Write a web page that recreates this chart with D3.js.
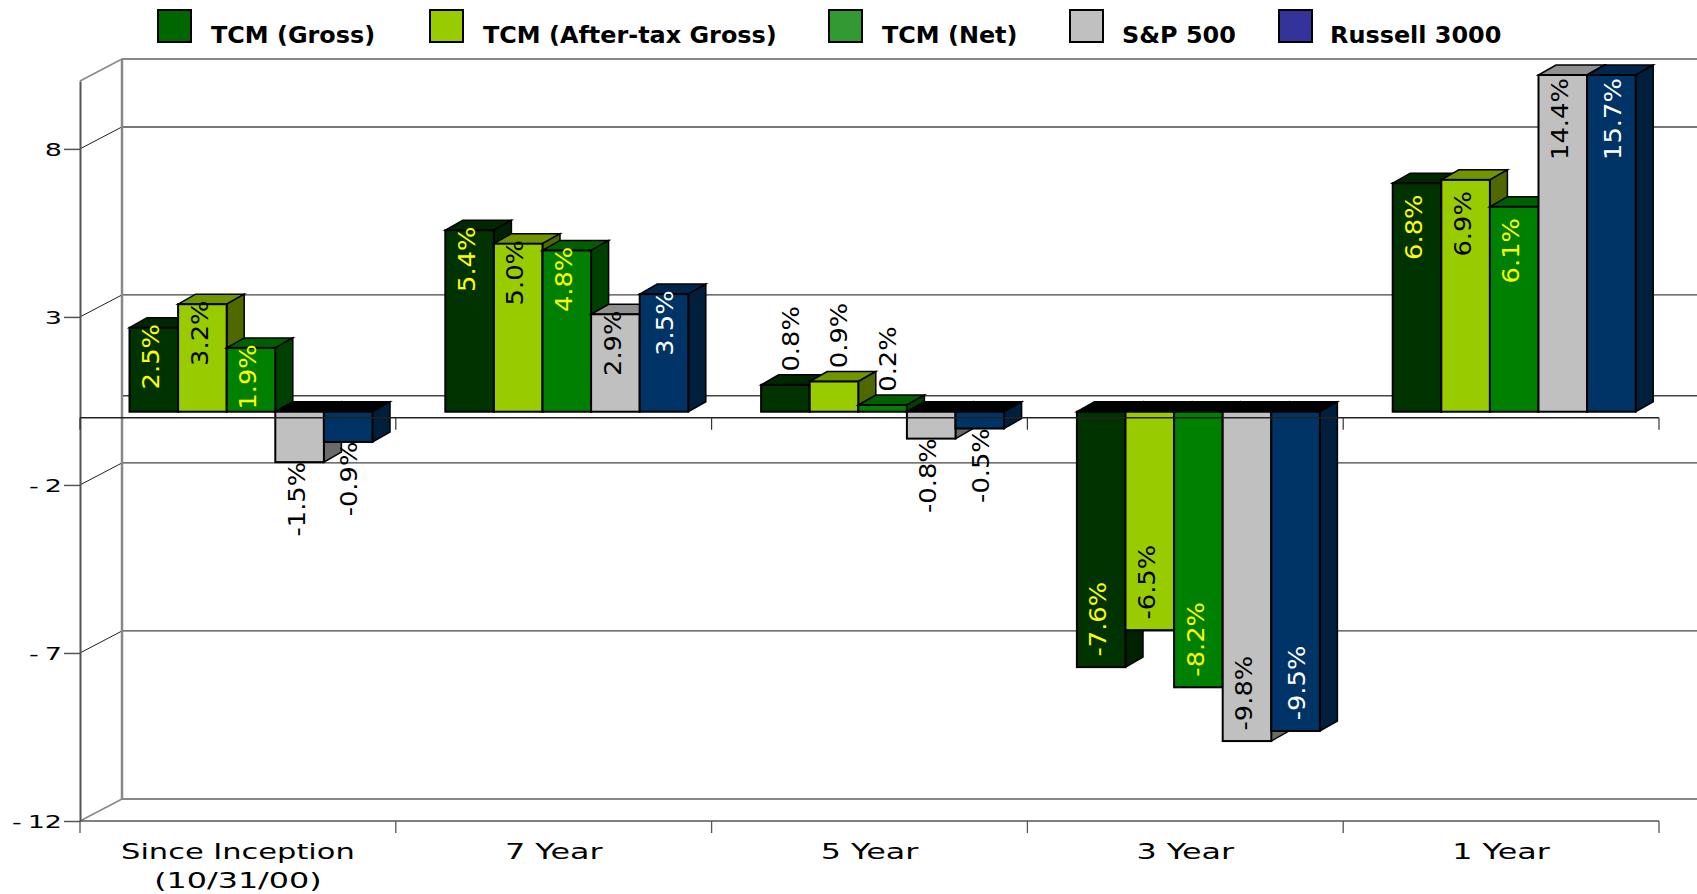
<!DOCTYPE html>
<html><head><meta charset="utf-8">
<script src="https://cdn.jsdelivr.net/npm/d3@7"></script>
<style>html,body{margin:0;background:#fff;overflow:hidden}svg{display:block}text{font-family:"DejaVu Sans",sans-serif;fill:#000}</style>
</head><body><div id="c"></div>
<script>
const categories = [["Since Inception","(10/31/00)"],["7 Year"],["5 Year"],["3 Year"],["1 Year"]];
const seriesNames = ["TCM (Gross)","TCM (After-tax Gross)","TCM (Net)","S&P 500","Russell 3000"];
const tcmGross = [2.5,5.4,0.8,-7.6,6.8];
const tcmAfterTax = [3.2,5.0,0.9,-6.5,6.9];
const tcmNet = [1.9,4.8,0.2,-8.2,6.1];
const sp500 = [-1.5,2.9,-0.8,-9.8,14.4];
const russell3000 = [-0.9,3.5,-0.5,-9.5,15.7];
const yTicks = [8,3,-2,-7,-12];
const allSeries = [tcmGross,tcmAfterTax,tcmNet,sp500,russell3000];

const legendColors = ["#006600","#99CC00","#339933","#C0C0C0","#333399"];
const frontColors = ["#003300","#99CC00","#008000","#C0C0C0","#003366"];
const topColors = ["#002800","#6F9500","#006000","#909090","#00264D"];
const sideColors = ["#002200","#4F6800","#004000","#6A6A6A","#001F3D"];
const labelColors = ["#FFFF00","#000","#FFFF00","#000","#FFF"];
const labelShift = [-3,-3,-3,-3,1];

const W=1697,H=894;
const svg=d3.select("#c").append("svg").attr("width",W).attr("height",H);
svg.append("rect").attr("width",W).attr("height",H).attr("fill","#fff");

const y=d3.scaleLinear().domain([-12,10.02]).range([821,81]).clamp(true);
const x=d3.scaleBand().domain(d3.range(categories.length)).range([80,1659]);
const inner=d3.scaleBand().domain(d3.range(allSeries.length)).range([49.5,292.5]);
const wallDx=42,wallDy=-22,barLift=-6,barDx=17.5,barDy=-10;
const wallY=v=>y(v)+wallDy, barY=v=>y(v)+barLift;
const [yBottom,yTop]=y.range();
const xL=x.range()[0], xR=x.range()[1];
const backX=xL+wallDx;

// back wall: gridlines and diagonals
const grid=svg.append("g");
const wallLines=[...yTicks.filter(t=>t!==-12),0];
grid.selectAll("line.g").data(wallLines).join("line").attr("class","g")
  .attr("x1",backX).attr("x2",W).attr("y1",d=>wallY(d)).attr("y2",d=>wallY(d))
  .attr("stroke",d=>d===8?"#777":"#444").attr("stroke-width",d=>d===8?2:1.3);
grid.selectAll("line.d").data(yTicks.slice(0,4)).join("line").attr("class","d")
  .attr("x1",xL).attr("x2",backX).attr("y1",d=>y(d)).attr("y2",d=>wallY(d))
  .attr("stroke","#222").attr("stroke-width",1);
[yTop,yBottom].forEach(p=>{
  grid.append("line").attr("x1",backX).attr("x2",W).attr("y1",p+wallDy).attr("y2",p+wallDy).attr("stroke","#888").attr("stroke-width",2);
  grid.append("line").attr("x1",xL).attr("x2",backX).attr("y1",p).attr("y2",p+wallDy).attr("stroke","#888").attr("stroke-width",1.5);
});
grid.append("line").attr("x1",backX).attr("x2",backX).attr("y1",yTop+wallDy).attr("y2",yBottom+wallDy).attr("stroke","#888").attr("stroke-width",2.5);

// y axis
const ax=svg.append("g").attr("transform",`translate(${xL},0)`)
  .call(d3.axisLeft(y).tickValues(yTicks).tickSize(16).tickSizeOuter(0).tickFormat(d=>String(d)));
ax.select(".domain").attr("stroke","#555").attr("stroke-width",2);
ax.selectAll(".tick line").attr("stroke","#555").attr("stroke-width",1.5);
ax.selectAll(".tick text").each(function(d){
  const sel=d3.select(this).text(null);
  const str=String(d);
  if(d<0){
    sel.append("tspan").text(str[0]);
    sel.append("tspan").attr("dx",4).text(str.slice(1));
  }else sel.text(str);
}).attr("font-size",18).attr("x",0).attr("dy",0).attr("text-anchor","end")
  .attr("dominant-baseline","central").style("font-family",'"DejaVu Sans"')
  .attr("transform","translate(-18,0) scale(1.5,1)");

// bottom frame with category ticks
const boundaries=d3.range(categories.length+1).map(i=>xL+i*x.step());
svg.append("line").attr("x1",xL).attr("x2",xR).attr("y1",yBottom).attr("y2",yBottom).attr("stroke","#555").attr("stroke-width",1.6);
svg.selectAll("line.bt").data(boundaries).join("line").attr("class","bt")
  .attr("x1",d=>d).attr("x2",d=>d).attr("y1",yBottom).attr("y2",yBottom+12).attr("stroke","#555").attr("stroke-width",1.3);

// bars
const bars=svg.append("g");
categories.forEach((c,ci)=>{
  allSeries.forEach((s,si)=>{
    const v=s[ci], bx=x(ci)+inner(si), bw=inner.bandwidth();
    const y0=barY(0), yv=barY(v);
    const t=Math.min(y0,yv), b=Math.max(y0,yv);
    const g=bars.append("g").attr("stroke","#000");
    const pts=a=>a.map(p=>p.join(",")).join(" ");
    g.append("polygon").attr("points",pts([[bx,t],[bx+barDx,t+barDy],[bx+bw+barDx,t+barDy],[bx+bw,t]]))
      .attr("fill",v<0?"#000":topColors[si]).attr("stroke-width",1.5);
    g.append("polygon").attr("points",pts([[bx+bw,t],[bx+bw+barDx,t+barDy],[bx+bw+barDx,b+barDy],[bx+bw,b]]))
      .attr("fill",sideColors[si]).attr("stroke-width",1.5);
    g.append("rect").attr("x",bx).attr("y",t).attr("width",bw).attr("height",b-t)
      .attr("fill",frontColors[si]).attr("stroke-width",2);
  });
});

// zero axis in front of the bars
svg.append("line").attr("x1",xL).attr("x2",xR).attr("y1",y(0)).attr("y2",y(0)).attr("stroke","#222").attr("stroke-width",1.3);
svg.selectAll("line.zt").data(boundaries).join("line").attr("class","zt")
  .attr("x1",d=>d).attr("x2",d=>d).attr("y1",y(0)).attr("y2",y(0)+12).attr("stroke","#333").attr("stroke-width",1.2);

// value labels
const labels=svg.append("g");
categories.forEach((c,ci)=>{
  allSeries.forEach((s,si)=>{
    const v=s[ci], bw=inner.bandwidth(), cx=x(ci)+inner(si)+bw/2;
    const h=Math.abs(barY(v)-barY(0));
    let ly,lx=cx+labelShift[si],col=labelColors[si];
    if(v>=0){
      if(h<40){ly=barY(v)-46;lx=cx+5;col="#000";}
      else ly=barY(v)+(h<190?29:44);
    }else{
      if(h<100){ly=barY(v)+37;col="#000";}
      else ly=barY(v)-48;
    }
    labels.append("text").text(v.toFixed(1)+"%").attr("font-size",23).style("fill",col)
      .attr("text-anchor","middle").attr("dy","0.36em")
      .attr("transform",`translate(${lx},${ly}) rotate(-90) scale(1.12,1)`);
  });
});

// category labels
const cats=svg.append("g");
categories.forEach((lines,ci)=>{
  lines.forEach((t,li)=>{
    cats.append("text").text(t).attr("font-size",22).attr("text-anchor","middle")
      .attr("transform",`translate(${x(ci)+x.bandwidth()/2},${859+li*29}) scale(${t.length>=15?1.385:1.445},1)`);
  });
});

// legend
const swatchStarts=[158,430,829,1070,1279];
const labelStarts=[211,483,882,1122,1330];
const leg=svg.append("g");
seriesNames.forEach((n,i)=>{
  leg.append("rect").attr("x",swatchStarts[i]).attr("y",10).attr("width",33).attr("height",32)
    .attr("fill",legendColors[i]).attr("stroke","#000").attr("stroke-width",2);
  leg.append("text").text(n).attr("font-size",23).attr("font-weight","bold")
    .attr("transform",`translate(${labelStarts[i]},43) scale(1.04,1)`);
});
</script></body></html>
